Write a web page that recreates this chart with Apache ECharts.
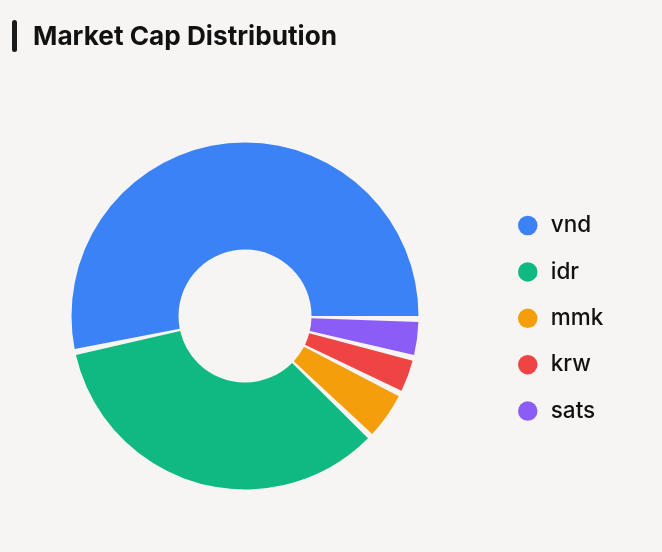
<!DOCTYPE html>
<html lang="en">
<head>
    <meta charset="UTF-8">
    <title>Market Cap Distribution</title>
    <script src="https://cdn.jsdelivr.net/npm/echarts@6.0.0/dist/echarts.min.js"></script>
    <style>
        html, body {
            margin: 0;
            padding: 0;
            background: #f6f5f3;
        }
        #main {
            width: 662px;
            height: 552px;
        }
    </style>
</head>
<body>
    <div id="main"></div>

    <script>
        // share of market cap
        var currencies = ['vnd', 'idr', 'mmk', 'krw', 'sats'];
        var shares = [53.6, 34.5, 4.8, 3.5, 3.6];
        var colors = ['#3b82f6', '#10b981', '#f59e0b', '#ef4444', '#8b5cf6'];

        var chart = echarts.init(document.getElementById('main'));

        var pieData = currencies.map(function (name, i) {
            return { name: name, value: shares[i], itemStyle: { color: colors[i] } };
        });

        chart.setOption({
            backgroundColor: '#f6f5f3',
            textStyle: { fontFamily: 'Inter' },
            title: {
                text: 'Market Cap Distribution',
                left: 33,
                top: 24,
                padding: 0,
                textStyle: {
                    fontFamily: 'Inter',
                    fontSize: 26.2,
                    fontWeight: 700,
                    color: '#111111'
                }
            },
            graphic: [{
                type: 'rect',
                left: 12,
                top: 20,
                shape: { width: 5, height: 32, r: 2.5 },
                style: { fill: '#1a1a1a' }
            }],
            legend: {
                orient: 'vertical',
                left: 518,
                top: 214,
                padding: 0,
                icon: 'circle',
                itemWidth: 36,
                itemHeight: 19.5,
                itemGap: 23.4,
                textStyle: {
                    fontFamily: 'Inter',
                    fontSize: 22.5,
                    fontWeight: 500,
                    color: '#111111'
                },
                data: currencies
            },
            series: [{
                type: 'pie',
                center: [245, 316],
                radius: [66.5, 173.5],
                startAngle: -1,
                clockwise: false,
                padAngle: 2,
                label: { show: false },
                labelLine: { show: false },
                emphasis: { scale: false },
                data: pieData
            }]
        });
    </script>
</body>
</html>
